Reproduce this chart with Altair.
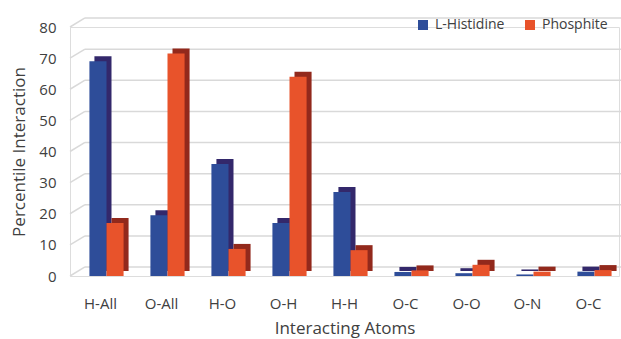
import altair as alt
import pandas as pd

labels = ["H-All", "O-All", "H-O", "O-H", "H-H", "O-C", "O-O", "O-N", "O-C"]
histidine = [69, 19.5, 36, 17, 27, 1.3, 0.9, 0.5, 1.4]
phosphite = [17, 71.5, 8.7, 64, 8.3, 1.8, 3.6, 1.4, 1.9]
series = ["L-Histidine", "Phosphite"]
front_colors = ["#2E4D99", "#E8532B"]
depth_colors = ["#33286B", "#92291C"]
grid_ticks = [0, 10, 20, 30, 40, 50, 60, 70, 80]

rows = []
for i, lab in enumerate(labels):
    rows.append({"idx": i, "series": series[0], "value": histidine[i], "dark": depth_colors[0]})
    rows.append({"idx": i, "series": series[1], "value": phosphite[i], "dark": depth_colors[1]})
df = pd.DataFrame(rows)
grid_df = pd.DataFrame({"v": grid_ticks})

W, H = 549, 249
FONT = "Open Sans"
BW = 61 * 0.56  # band width of each category

label_expr = "[" + ",".join(f"'{l}'" for l in labels) + "][datum.value]"

x_scale = alt.Scale(paddingInner=0.44, paddingOuter=0.22)
x_enc = alt.X("idx:O", scale=x_scale,
              axis=alt.Axis(labelExpr=label_expr, labelAngle=0, domain=False, ticks=False,
                            labelPadding=20, labelFontSize=15, labelColor="#404040",
                            labelFont=FONT, title="Interacting Atoms", titleFontSize=17,
                            titleFont=FONT, titleFontWeight="normal", titleColor="#404040",
                            titlePadding=9))
y_scale = alt.Scale(domain=[0, 80], nice=False)
y_axis = alt.Axis(values=grid_ticks, domain=False, ticks=False, grid=False,
                  labelOverlap=False, labelBound=False,
                  labelPadding=14, labelFontSize=15, labelColor="#404040",
                  labelFont=FONT, title="Percentile Interaction", titleFontSize=17,
                  titleFont=FONT, titleFontWeight="normal", titleColor="#404040",
                  titlePadding=10)

grid = alt.Chart(grid_df).mark_rule(color="#D9D9D9", strokeWidth=1.5, yOffset=-9).encode(
    y=alt.Y("v:Q", scale=y_scale, axis=y_axis),
    x=alt.value(15), x2=alt.value(W + 2),
)
diag = alt.Chart(grid_df).transform_calculate(v2="datum.v + 2.9").mark_rule(
    color="#D9D9D9", strokeWidth=1.5).encode(
    y=alt.Y("v:Q", scale=y_scale, axis=y_axis),
    y2="v2:Q",
    x=alt.value(0), x2=alt.value(15),
)

depth = alt.Chart(df).mark_bar(yOffset=-5).encode(
    x=x_enc,
    xOffset=alt.XOffset("series:N", scale=alt.Scale(paddingInner=0, paddingOuter=0,
                                                    range=[11, 11 + BW])),
    y=alt.Y("value:Q", scale=y_scale, axis=y_axis),
    color=alt.Color("dark:N", scale=None),
)
front = alt.Chart(df).mark_bar().encode(
    x=x_enc,
    xOffset=alt.XOffset("series:N", scale=alt.Scale(paddingInner=0, paddingOuter=0,
                                                    range=[6, 6 + BW])),
    y=alt.Y("value:Q", scale=y_scale, axis=y_axis),
    color=alt.Color("series:N", scale=alt.Scale(domain=series, range=front_colors),
                    legend=alt.Legend(title=None, orient="none", legendX=346, legendY=-9,
                                      direction="horizontal", symbolType="square",
                                      symbolSize=100, symbolStrokeWidth=0,
                                      labelFontSize=14, labelFont=FONT, labelColor="#404040",
                                      columnPadding=18, labelOffset=5)),
)

chart = alt.layer(grid, diag, depth, front).resolve_scale(xOffset="independent").properties(
    width=W, height=H,
    autosize=alt.AutoSizeParams(type="none"),
    padding={"left": 70, "top": 27, "right": 2, "bottom": 63},
).configure_view(stroke=None).configure(background="white")

chart.save("out.html", embed_options={"renderer": "svg", "actions": False})
